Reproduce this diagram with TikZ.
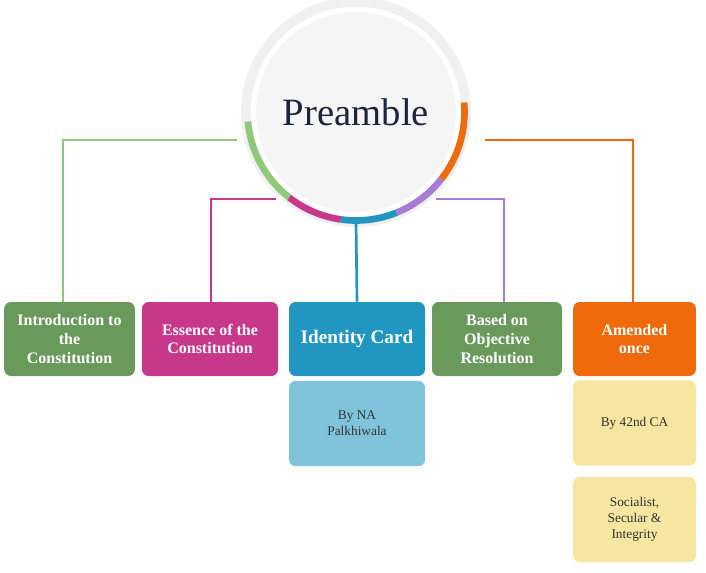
\documentclass[tikz,border=0pt]{standalone}
\usepackage{fontspec}
\setmainfont{Liberation Serif}
\usetikzlibrary{positioning}
\definecolor{cgreen}{HTML}{6A9A5B}
\definecolor{clgreen}{HTML}{8FC97A}
\definecolor{cmag}{HTML}{C8388A}
\definecolor{cblue}{HTML}{2196C0}
\definecolor{clblue}{HTML}{80C4DC}
\definecolor{cpurp}{HTML}{A77BD6}
\definecolor{corange}{HTML}{EE6A0A}
\definecolor{cyellow}{HTML}{F6E6A0}
\definecolor{ctext}{HTML}{1E2440}
\begin{document}
\begin{tikzpicture}[x=0.75pt,y=-0.75pt]

	\tikzstyle{topbox}=[rounded corners=5pt,text=white,font=\bfseries\large,
		align=center,inner sep=1pt,minimum height=55.5pt]
	\tikzstyle{subbox}=[rounded corners=5pt,text=black!80,align=center,
		font=\normalsize,minimum height=64pt]
	\tikzstyle{link}=[line width=2pt]

	\useasboundingbox (0,0) rectangle (706,572);

	% circle
	\fill[black!6] (356,112) circle (86.25pt);
	\fill[white] (356,112) circle (79pt);
	\fill[black!4] (356,112) circle (75pt);
	\foreach \a/\b/\c in {185/232/clgreen,232/262/cmag,262/292/cblue,292/322/cpurp,322/365/corange}
		\draw[\c,line width=5pt] (356,112) ++(-\a:108.5) arc[start angle=-\a,end angle=-\b,radius=108.5];
	\node[font=\fontsize{29}{32}\selectfont,text=ctext] (pre) at (356,112) {Preamble};

	% top row
	\node[topbox,fill=cgreen,minimum width=98pt] (intro) at (69.5,339) {Introduction to\\the\\Constitution};
	\node[topbox,fill=cmag,minimum width=102pt] (ess) at (210,339) {Essence of the\\Constitution};
	\node[topbox,fill=cblue,minimum width=102pt,font=\bfseries\Large] (id) at (357,339) {Identity Card};
	\node[topbox,fill=cgreen,minimum width=97.5pt] (obj) at (497,339) {Based on\\Objective\\Resolution};
	\node[topbox,fill=corange,minimum width=92pt] (amd) at (634.5,339) {Amended\\once};

	% sub boxes
	\node[subbox,fill=clblue,minimum width=102pt] (na) at (357,423.5) {By NA\\Palkhiwala};
	\node[subbox,fill=cyellow,minimum width=92pt] (ca) at (634.5,423) {By 42nd CA};
	\node[subbox,fill=cyellow,minimum width=92pt] (soc) at (634.5,519.5) {Socialist,\\Secular \&\\Integrity};

	% connectors
	\coordinate (gstart) at (237,140);
	\coordinate (mstart) at (276,199);
	\coordinate (pstart) at (436,199);
	\coordinate (ostart) at (485,140);
	\draw[link,clgreen] (gstart) -| (intro.north -| 63,0);
	\draw[link,cmag] (mstart) -| (ess.north -| 211,0);
	\draw[link,cblue] (356,221) -- (id.north);
	\draw[link,cpurp] (pstart) -| (obj.north -| 504,0);
	\draw[link,corange] (ostart) -| (amd.north -| 633,0);

\end{tikzpicture}
\end{document}
